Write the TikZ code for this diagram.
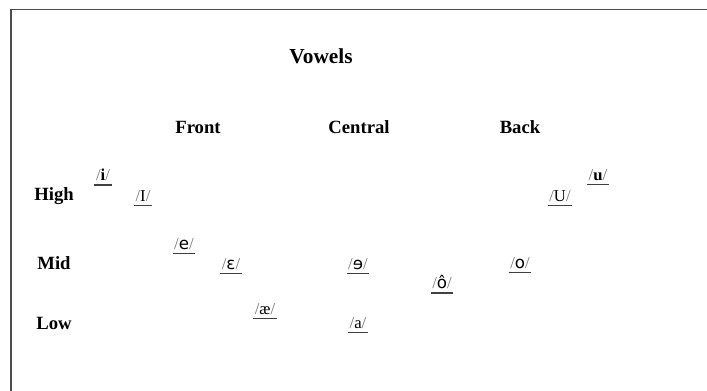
\documentclass[tikz,border=0pt]{standalone}
\usepackage{fontspec}
\setmainfont{Liberation Serif}
\newfontfamily\dvs{DejaVu Sans}
\newcommand{\vsl}{{\color{black!55}/}}
\begin{document}
\begin{tikzpicture}[x=0.75pt,y=-0.75pt,
  head/.style={font=\bfseries\fontsize{14}{16}\selectfont, inner sep=0pt},
  vow/.style={font=\fontsize{12.5}{14}\selectfont, inner sep=1pt, text depth=0pt},
  ul/.style={draw=black!75, line width=0.9pt}]
\useasboundingbox (0,0) rectangle (707,391);
\fill[white] (0,0) rectangle (707,391);
\draw[black!70, line width=1pt] (11,391) -- (11,9.5) -- (707,9.5);
\node[head, font=\bfseries\fontsize{16}{18}\selectfont] (title) at (321,56) {Vowels};
\node[head] (front) at (198,127) {Front};
\node[head] (central) at (359,127) {Central};
\node[head] (back) at (520,127) {Back};
\node[head] (high) at (54,196) {High};
\node[head] (mid) at (54,263) {Mid};
\node[head] (low) at (54,323) {Low};
\node[vow] (i) at (103,175) {\vsl\textbf{i}\vsl};
\node[vow] (I) at (143,196) {\vsl I\vsl};
\node[vow] (u) at (598,175) {\vsl\textbf{u}\vsl};
\node[vow] (U) at (560,196) {\vsl U\vsl};
\node[vow] (e) at (184,244) {\vsl{\dvs e}\vsl};
\node[vow] (eps) at (231,264) {\vsl{\dvs ɛ}\vsl};
\node[vow] (schwa) at (358,264) {\vsl{\dvs ɘ}\vsl};
\node[vow] (ohat) at (442,282) {\vsl{\dvs ô}\vsl};
\node[vow] (o) at (520,263) {\vsl{\dvs o}\vsl};
\node[vow] (ae) at (265,309) {\vsl æ\vsl};
\node[vow] (a) at (358,323) {\vsl a\vsl};
\foreach \n in {i,I,u,U,e,eps,schwa,ohat,o,ae,a}
  \draw[ul] ([yshift=-2pt]\n.south west) -- ([yshift=-2pt]\n.south east);
\end{tikzpicture}
\end{document}
